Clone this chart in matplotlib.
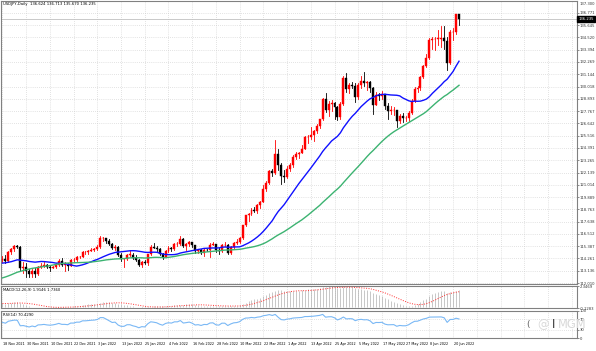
import numpy as np
import pandas as pd
import matplotlib
matplotlib.use("Agg")
import matplotlib.pyplot as plt
from matplotlib.patches import Rectangle

# closes before the visible window (only used to warm up the indicators)
warmup_closes = [
    110.00, 109.90, 109.70, 109.80, 110.30, 110.20, 109.70, 109.90, 110.00, 109.70, 109.40,
    109.70, 109.90, 109.40, 109.20, 109.80, 110.30, 110.70, 111.00, 111.50, 111.90, 111.30,
    111.10, 110.90, 111.50, 111.40, 111.60, 112.20, 113.30, 113.60, 113.30, 113.70, 114.20,
    114.30, 114.30, 114.30, 114.00, 113.50, 113.70, 114.10, 113.80, 113.60, 114.00,
    114.00, 113.90, 114.00, 113.80, 113.40, 112.90, 112.90, 113.90, 114.10, 113.90, 114.10,
    114.80, 114.10,
]

# visible daily bars, 18 Nov 2021 .. 22 Jun 2022
closes = [
    114.25, 114.00, 114.85, 115.10, 115.40, 115.35, 113.40, 113.50,
    113.15, 112.80, 113.15, 112.80, 113.50, 113.55, 113.70, 113.50,
    113.40, 113.50, 113.70, 114.00, 113.70, 113.70, 113.60, 114.10,
    114.10, 114.40, 114.40, 114.85, 114.85, 114.95, 115.05, 115.10,
    115.30, 116.10, 116.10, 115.85, 115.55, 115.20, 115.30, 114.60,
    114.20, 114.20, 114.60, 114.60, 114.30, 114.10, 113.70, 113.95,
    113.85, 114.65, 115.35, 115.25, 115.10, 114.70, 114.40, 114.95,
    115.20, 115.10, 115.55, 115.55, 116.05, 115.40, 115.55, 115.75,
    115.45, 114.90, 115.00, 114.75, 115.05, 115.00, 115.50, 115.55,
    115.00, 114.90, 115.50, 115.50, 114.80, 115.30, 115.70, 115.80,
    116.15, 117.30, 118.20, 118.30, 118.70, 118.60, 119.15, 119.45,
    120.60, 121.15, 122.30, 122.05, 123.85, 122.85, 121.85, 121.70,
    122.50, 122.80, 123.60, 123.80, 123.95, 124.30, 125.40, 125.40,
    125.60, 125.90, 126.40, 127.00, 128.90, 127.85, 128.40, 128.50,
    128.10, 127.20, 128.40, 130.80, 129.80, 130.15, 130.10, 129.10,
    130.20, 130.55, 130.30, 130.45, 129.90, 128.30, 129.20, 129.15,
    129.35, 128.25, 127.80, 127.85, 127.90, 126.85, 127.30, 127.10,
    127.10, 127.60, 128.70, 129.80, 129.90, 130.85, 131.90, 132.60,
    134.25, 134.35, 134.40, 134.40, 134.50, 134.20, 132.20, 135.00,
    135.05, 136.65, 136.235,
]
highs = [
    114.45, 114.55, 114.95, 115.25, 115.50, 115.50, 115.40, 113.90,
    113.85, 113.30, 113.30, 113.40, 113.55, 113.80, 113.95, 113.75,
    113.65, 113.60, 113.80, 114.25, 114.30, 113.90, 113.80, 114.20,
    114.30, 114.50, 114.50, 114.90, 114.95, 115.05, 115.20, 115.20,
    115.45, 116.35, 116.20, 116.15, 116.00, 115.65, 115.50, 115.40,
    114.75, 114.30, 114.70, 115.05, 114.80, 114.55, 114.20, 114.00,
    114.10, 114.70, 115.45, 115.70, 115.40, 115.20, 114.80, 115.05,
    115.40, 115.35, 115.70, 115.75, 116.30, 116.15, 115.70, 115.85,
    115.80, 115.50, 115.15, 115.10, 115.20, 115.15, 115.70, 115.75,
    115.60, 115.25, 115.55, 115.80, 115.55, 115.40, 115.80, 116.05,
    116.20, 117.35, 118.25, 118.45, 118.85, 119.00, 119.25, 119.50,
    120.95, 121.40, 122.40, 122.45, 125.10, 124.30, 123.00, 122.40,
    122.70, 123.05, 123.70, 124.00, 124.05, 124.70, 125.50, 125.60,
    126.30, 126.00, 126.60, 127.05, 128.95, 129.40, 128.65, 128.80,
    128.60, 128.20, 128.60, 131.00, 131.25, 130.30, 130.40, 130.30,
    130.35, 131.00, 131.35, 130.55, 130.50, 130.00, 129.50, 129.40,
    129.60, 129.35, 128.50, 128.20, 128.10, 127.90, 127.50, 127.60,
    127.35, 127.80, 128.90, 130.00, 130.10, 130.95, 132.00, 133.00,
    134.50, 134.55, 134.60, 135.20, 135.60, 135.60, 134.60, 135.20,
    135.40, 136.70, 136.713,
]
lows = [
    113.95, 113.85, 113.95, 114.70, 114.90, 115.20, 113.20, 112.95,
    112.55, 112.55, 112.60, 112.55, 112.75, 113.35, 113.45, 113.40,
    113.15, 113.35, 113.40, 113.60, 113.60, 113.15, 113.20, 113.55,
    113.90, 114.05, 114.30, 114.35, 114.70, 114.70, 114.90, 114.95,
    115.00, 115.25, 115.90, 115.70, 115.50, 115.10, 115.05, 114.50,
    114.00, 113.50, 114.15, 114.50, 114.20, 114.00, 113.60, 113.45,
    113.75, 113.70, 114.55, 115.20, 114.95, 114.60, 114.25, 114.35,
    114.85, 114.95, 115.05, 115.40, 115.45, 115.30, 115.00, 115.40,
    115.30, 114.80, 114.75, 114.65, 114.50, 114.90, 114.40, 115.45,
    114.85, 114.70, 114.85, 115.40, 114.65, 114.70, 115.10, 115.55,
    115.65, 116.05, 117.20, 117.70, 118.20, 118.50, 118.40, 118.85,
    119.40, 120.45, 121.10, 121.80, 122.00, 122.40, 121.05, 121.30,
    121.65, 122.30, 122.60, 123.40, 123.50, 123.90, 124.25, 124.85,
    125.20, 125.05, 125.80, 126.20, 126.95, 127.70, 127.35, 127.80,
    127.00, 126.95, 127.00, 128.30, 129.50, 129.40, 129.90, 128.60,
    128.90, 129.90, 130.10, 129.70, 129.50, 127.50, 128.30, 128.80,
    128.90, 128.00, 127.00, 127.50, 127.40, 126.35, 126.65, 126.80,
    126.85, 126.90, 127.50, 128.60, 129.50, 129.70, 130.80, 131.80,
    132.50, 133.50, 133.40, 133.80, 133.60, 133.50, 131.50, 132.10,
    134.30, 134.80, 135.670,
]
last_open = 136.624

date_labels = [
    "18 Nov 2021", "30 Nov 2021", "10 Dec 2021", "22 Dec 2021", "3 Jan 2022",
    "13 Jan 2022", "25 Jan 2022", "4 Feb 2022", "16 Feb 2022", "28 Feb 2022",
    "10 Mar 2022", "22 Mar 2022", "1 Apr 2022", "13 Apr 2022", "25 Apr 2022",
    "5 May 2022", "17 May 2022", "27 May 2022", "8 Jun 2022", "20 Jun 2022",
]
label_step = 8

price_base = 112.010
price_step = 1.1255
n_price_labels = 23
price_top = 137.300

# ---------- indicators ----------
all_close = pd.Series(warmup_closes + closes)
nw = len(warmup_closes)
sma20 = all_close.rolling(20).mean().values[nw:]
sma50 = all_close.rolling(50).mean().values[nw:]
macd_main = (all_close.ewm(span=12, adjust=False).mean()
             - all_close.ewm(span=26, adjust=False).mean())
macd_sig = macd_main.rolling(9).mean()
macd_main = macd_main.values[nw:]
macd_sig = macd_sig.values[nw:]
diff = all_close.diff()
gain = diff.clip(lower=0).ewm(alpha=1 / 14, adjust=False).mean()
loss = (-diff.clip(upper=0)).ewm(alpha=1 / 14, adjust=False).mean()
rsi = (100 - 100 / (1 + gain / loss)).values[nw:]

n = len(closes)
x = np.arange(n)
opens = [warmup_closes[-1]] + closes[:-1]
opens[-1] = last_open

# ---------- layout ----------
W, H = 596, 351
fig = plt.figure(figsize=(W / 100, H / 100), dpi=100)
fig.patch.set_facecolor("white")


def px_axes(x0, y0, x1, y1):
    return fig.add_axes([x0 / W, 1 - y1 / H, (x1 - x0) / W, (y1 - y0) / H])


ax = px_axes(1, 1, 577, 284)
ax_m = px_axes(1, 286, 577, 308)
ax_r = px_axes(1, 311, 577, 338)

FS = 2.7
xmin, xmax = -0.5, 193.8
grid_kw = dict(color="#c8c8c8", lw=0.5, ls=(0, (1, 2)))
vlines = np.arange(0, xmax, label_step)

for a in (ax, ax_m, ax_r):
    a.set_xlim(xmin, xmax)
    a.set_xticks([])
    for s in a.spines.values():
        s.set_color("#808080")
        s.set_linewidth(0.8)
    a.yaxis.tick_right()
    a.tick_params(axis="y", length=1.2, width=0.4, pad=0.6, labelsize=FS, colors="#333333")
    for v in vlines:
        a.axvline(v, zorder=0, **grid_kw)

# ---------- main panel ----------
ax.set_ylim(111.92, 137.86)
pticks = [price_base + k * price_step for k in range(n_price_labels)]
ax.set_yticks(pticks)
ax.set_yticklabels([f"{p:.3f}" for p in pticks])
for p in pticks:
    ax.axhline(p, zorder=0, **grid_kw)
ax.text(1.004, 0.998, f"{price_top:.3f}", transform=ax.transAxes, fontsize=FS,
        color="#333333", va="top", ha="left", clip_on=False)

for i in range(n):
    o, c = opens[i], closes[i]
    col = "#ff0000" if c >= o else "#000000"
    ax.plot([x[i], x[i]], [lows[i], highs[i]], color=col, lw=0.6, zorder=3)
    ax.add_patch(Rectangle((x[i] - 0.33, min(o, c)), 0.66, max(abs(c - o), 0.03),
                           facecolor=col, edgecolor=col, lw=0.3, zorder=4))

ax.plot(x, sma20, color="#1010ff", lw=1.0, zorder=5)
ax.plot(x, sma50, color="#3cb371", lw=1.0, zorder=5)

last = closes[-1]
ax.axhline(last, color="#c0c0c0", lw=0.6, zorder=1)
ax.text(1.002, last, f"{last:.3f}", transform=ax.get_yaxis_transform(),
        fontsize=FS, color="white", va="center", ha="left", zorder=10,
        bbox=dict(boxstyle="square,pad=0.3", fc="black", ec="black"), clip_on=False)
ax.text(0.003, 0.995, f"USDJPY,Daily  {last_open:.3f} {highs[-1]:.3f} {lows[-1]:.3f} {last:.3f}",
        transform=ax.transAxes, fontsize=FS, va="top", ha="left")

# ---------- MACD panel ----------
mlo, mhi = min(0.0, np.nanmin(macd_main)), np.nanmax(macd_main)
ax_m.set_ylim(mlo, mhi * 1.02)
ax_m.set_yticks([mlo, mhi])
ax_m.set_yticklabels([f"{mlo:.4f}", f"{mhi:.4f}"])
ax_m.vlines(x, 0, macd_main, color="#b0b0b0", lw=0.5, zorder=2)
ax_m.plot(x, macd_sig, color="#ff3030", lw=0.7, ls=(0, (1, 1.5)), zorder=3)
ax_m.text(0.003, 0.93, f"MACD(12,26,9) {macd_main[-1]:.4f} {macd_sig[-1]:.4f}",
          transform=ax_m.transAxes, fontsize=FS, va="top", ha="left")

# ---------- RSI panel ----------
ax_r.set_ylim(0, 100)
ax_r.set_yticks([0, 30, 70, 100])
ax_r.set_yticklabels(["0", "30", "70", "100"])
for lv in (30, 70):
    ax_r.axhline(lv, zorder=0, **grid_kw)
ax_r.plot(x, rsi, color="#7ab8f5", lw=0.8, zorder=3)
ax_r.text(0.003, 0.93, f"RSI(14) {rsi[-1]:.4f}", transform=ax_r.transAxes,
          fontsize=FS, va="top", ha="left")

# watermark
wy = 1 - 325 / H
fig.text(528 / W, wy, "(", fontsize=6.5, color="#606060", va="center", ha="center")
fig.text(543 / W, wy, "@", fontsize=8.5, color="#d9d9d9", va="center", ha="center")
fig.text(554 / W, wy, "I", fontsize=8.5, color="#333333", va="center", ha="center")
fig.text(557.5 / W, wy, "MGM", fontsize=8.3, color="#d9d9d9", va="center", ha="left")

# ---------- date axis ----------
for k, lab in enumerate(date_labels):
    xb = k * label_step
    ax_r.text(xb + 0.2, -0.14, lab, transform=ax_r.get_xaxis_transform(),
              fontsize=2.45, va="top", ha="left", clip_on=False)

fig.savefig("out.png", dpi=100)
